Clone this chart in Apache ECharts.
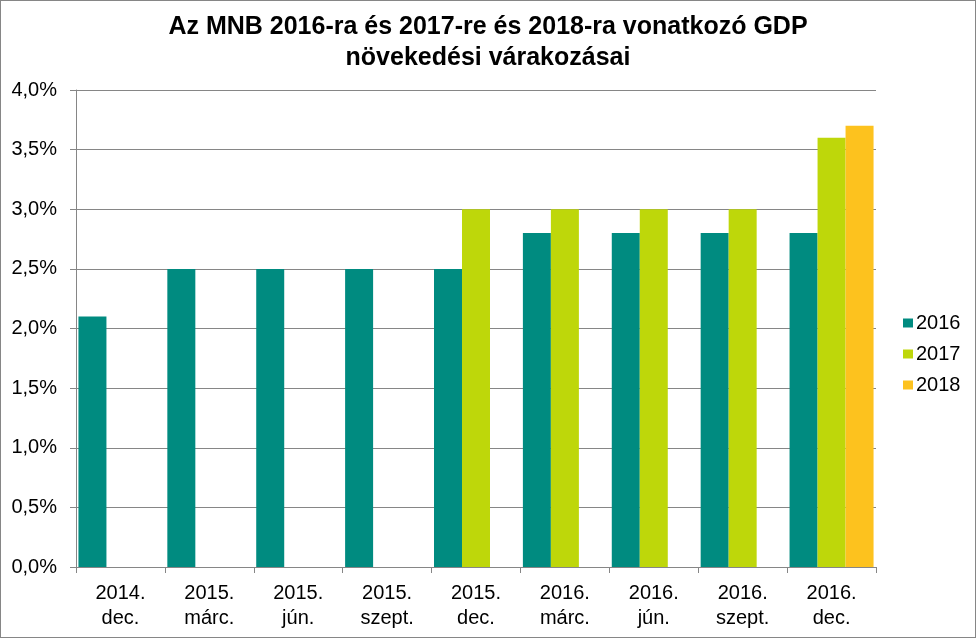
<!DOCTYPE html>
<html><head><meta charset="utf-8">
<script src="https://cdn.jsdelivr.net/npm/echarts@6/dist/echarts.min.js"></script>
<style>html,body{margin:0;padding:0;background:#fff}#c{width:976px;height:638px;box-sizing:border-box;border:1px solid #868686}</style>
</head><body><div id="c"></div>
<script>
const categories = ['2014.\ndec.','2015.\nmárc.','2015.\njún.','2015.\nszept.','2015.\ndec.','2016.\nmárc.','2016.\njún.','2016.\nszept.','2016.\ndec.'];
const s2016 = [2.1, 2.5, 2.5, 2.5, 2.5, 2.8, 2.8, 2.8, 2.8];
const s2017 = [null, null, null, null, 3.0, 3.0, 3.0, 3.0, 3.6];
const s2018 = [null, null, null, null, null, null, null, null, 3.7];
const seriesNames = ['2016','2017','2018'];
const colors = ['#008B80','#BED70A','#FDC21E'];
const font = 'Liberation Sans, Arial, sans-serif';
const chart = echarts.init(document.getElementById('c'));
chart.setOption({
  animation:false,
  title:{text:'Az MNB 2016-ra és 2017-re és 2018-ra vonatkozó GDP\nnövekedési várakozásai',left:'center',top:11,padding:0,
    textStyle:{fontFamily:font,fontSize:25,fontWeight:'bold',color:'#000',lineHeight:31}},
  legend:{orient:'vertical',left:897,top:307,itemWidth:10,itemHeight:9,itemGap:11,icon:'rect',
    textStyle:{fontFamily:font,fontSize:20,lineHeight:20,color:'#000',padding:[0,0,0,-2]},data:seriesNames},
  grid:{left:75,right:99,top:89,bottom:70},
  xAxis:{type:'category',data:categories,
    axisLine:{lineStyle:{color:'#868686',width:1}},
    axisTick:{show:true,length:6,lineStyle:{color:'#868686'}},
    axisLabel:{fontFamily:font,fontSize:20,color:'#000',lineHeight:25,margin:14}},
  yAxis:{type:'value',min:0,max:4,interval:0.5,
    axisLine:{show:true,lineStyle:{color:'#868686'}},
    axisTick:{show:true,length:6,lineStyle:{color:'#868686'}},
    splitLine:{lineStyle:{color:'#868686'}},
    axisLabel:{fontFamily:font,fontSize:20,color:'#000',margin:19,
      formatter:v=>v.toFixed(1).replace('.',',')+'%'}},
  series:[
    {name:'2016',type:'bar',data:s2016,itemStyle:{color:colors[0]},barGap:'0%',barCategoryGap:'5.5%'},
    {name:'2017',type:'bar',data:s2017,itemStyle:{color:colors[1]},barGap:'0%',barCategoryGap:'5.5%'},
    {name:'2018',type:'bar',data:s2018,itemStyle:{color:colors[2]},barGap:'0%',barCategoryGap:'5.5%'}
  ]
});
</script></body></html>
